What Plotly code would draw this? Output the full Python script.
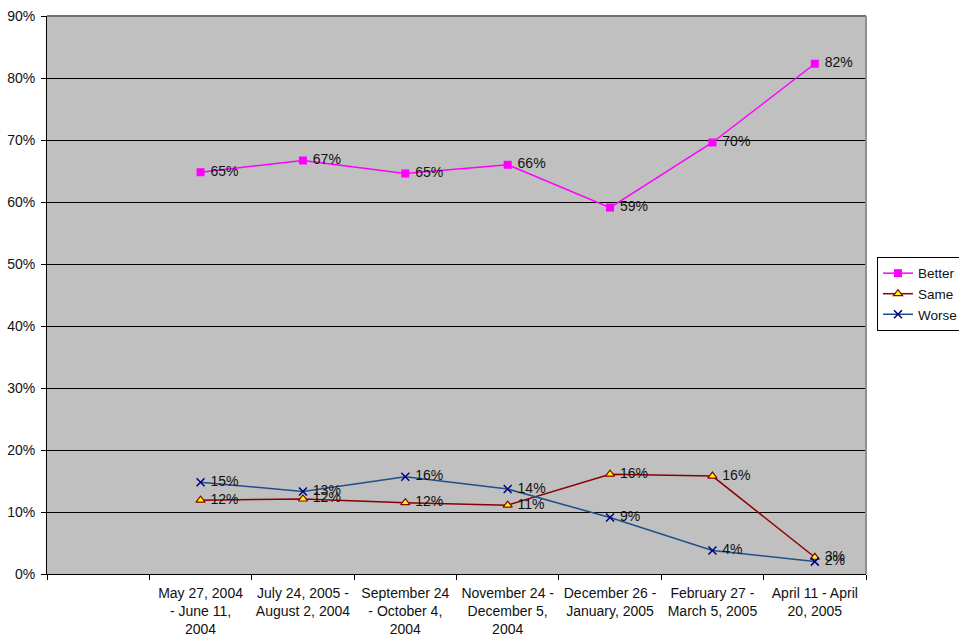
"""Better / Same / Worse survey trend — plotly line chart."""

import plotly.graph_objects as go

# ── data ─────────────────────────────────────────────────────────────

periods = [
    " ",
    "May 27, 2004<br>- June 11,<br>2004",
    "July 24, 2005 -<br>August 2, 2004",
    "September 24<br>- October 4,<br>2004",
    "November 24 -<br>December 5,<br>2004",
    "December 26 -<br>January, 2005",
    "February 27 -<br>March 5, 2005",
    "April 11 - April<br>20, 2005",
]
better = [0.648, 0.667, 0.646, 0.660, 0.591, 0.696, 0.823]
same = [0.119, 0.121, 0.115, 0.111, 0.161, 0.158, 0.027]
worse = [0.148, 0.133, 0.157, 0.137, 0.091, 0.038, 0.020]
y_ticks = [0, 0.1, 0.2, 0.3, 0.4, 0.5, 0.6, 0.7, 0.8, 0.9]

FONT = "Liberation Sans, Arial, sans-serif"

# ── chart ────────────────────────────────────────────────────────────

fig = go.Figure()

series = [
    ("Better", better, "#FF00FF",
     {"symbol": "square", "size": 8, "color": "#FF00FF"}),
    ("Same", same, "#8B0000",
     {"symbol": "triangle-up", "size": 8, "color": "#FFFF00",
      "line": {"color": "#8B0000", "width": 1.2}}),
    ("Worse", worse, "#1F4F8A",
     {"symbol": "x-thin", "size": 8, "color": "#000080",
      "line": {"color": "#000080", "width": 1.5}}),
]
for name, vals, color, marker in series:
    fig.add_trace(
        go.Scatter(
            x=periods[1:],
            y=vals,
            name=name,
            mode="lines+markers+text",
            line={"color": color, "width": 1.5},
            marker=marker,
            text=[" " + f"{v:.0%}" for v in vals],
            texttemplate="%{text}",
            textposition="middle right",
            textfont={"family": FONT, "size": 14, "color": "#111111"},
            cliponaxis=False,
        )
    )

fig.update_layout(
    width=959,
    height=637,
    margin={"l": 47, "r": 93, "t": 16, "b": 63, "autoexpand": False},
    paper_bgcolor="white",
    plot_bgcolor="#C0C0C0",
    font={"family": FONT, "size": 14, "color": "#111111"},
    showlegend=True,
    legend={
        "x": 1.0134,
        "xanchor": "left",
        "y": 0.502,
        "yanchor": "middle",
        "bgcolor": "white",
        "bordercolor": "black",
        "borderwidth": 1,
        "itemwidth": 30,
        "font": {"family": FONT, "size": 13.5},
        "tracegroupgap": 0,
    },
    xaxis={
        "type": "category",
        "categoryorder": "array",
        "categoryarray": periods,
        "range": [-0.5, 7.5],
        "tickson": "boundaries",
        "ticks": "outside",
        "ticklen": 5,
        "tickcolor": "black",
        "tickangle": 0,
        "ticklabelstandoff": 6,
        "showgrid": False,
        "showline": True,
        "linecolor": "black",
        "linewidth": 1,
        "automargin": False,
    },
    yaxis={
        "range": [0, 0.9],
        "tickvals": y_ticks,
        "tickformat": ".0%",
        "ticks": "outside",
        "ticklen": 5,
        "tickcolor": "black",
        "ticklabelstandoff": 3,
        "showgrid": True,
        "gridcolor": "black",
        "gridwidth": 1,
        "zeroline": False,
        "showline": True,
        "linecolor": "black",
        "linewidth": 1,
        "automargin": False,
    },
    shapes=[
        {"type": "line", "xref": "paper", "yref": "paper",
         "x0": 0, "x1": 1, "y0": 1, "y1": 1,
         "line": {"color": "#707070", "width": 2}, "layer": "above"},
        {"type": "line", "xref": "paper", "yref": "paper",
         "x0": 1, "x1": 1, "y0": 0, "y1": 1,
         "line": {"color": "#909090", "width": 2}, "layer": "above"},
    ],
)

fig.write_html(
    "out.html",
    config={"displayModeBar": False},
    post_script="document.body.style.margin = '0';",
)
